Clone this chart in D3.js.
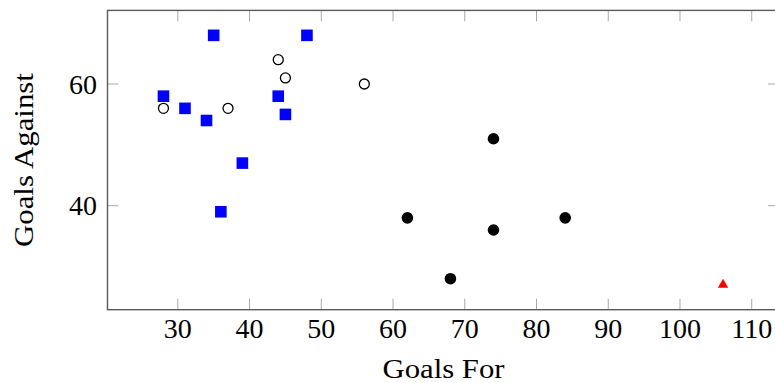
<!DOCTYPE html>
<html>
<head>
<meta charset="utf-8">
<script src="https://cdn.jsdelivr.net/npm/d3@7/dist/d3.min.js"></script>
<style>
  html, body { margin: 0; padding: 0; background: #fff; }
  svg { display: block; }
  text { font-family: "Liberation Serif", "DejaVu Serif", serif; fill: #000; }
</style>
</head>
<body>
<svg id="chart" width="775" height="383"></svg>
<script>
// Goals for / goals against, grouped by marker style
const blueSquares = [
  { gf: 35, ga: 68 }, { gf: 48, ga: 68 }, { gf: 28, ga: 58 },
  { gf: 44, ga: 58 }, { gf: 31, ga: 56 }, { gf: 45, ga: 55 },
  { gf: 34, ga: 54 }, { gf: 39, ga: 47 }, { gf: 36, ga: 39 }
];
const openCircles = [
  { gf: 28, ga: 56 }, { gf: 37, ga: 56 }, { gf: 44, ga: 64 },
  { gf: 45, ga: 61 }, { gf: 56, ga: 60 }
];
const filledCircles = [
  { gf: 74, ga: 51 }, { gf: 62, ga: 38 }, { gf: 84, ga: 38 },
  { gf: 74, ga: 36 }, { gf: 68, ga: 28 }
];
const redTriangles = [
  { gf: 106, ga: 27 }
];
const xTicks = [30, 40, 50, 60, 70, 80, 90, 100, 110];
const yTicks = [40, 60];
const xLabel = "Goals For";
const yLabel = "Goals Against";

const svg = d3.select("#chart");

// data range padded by 10% on each side
const allPts = [...blueSquares, ...openCircles, ...filledCircles, ...redTriangles];
const xExt = d3.extent(allPts, d => d.gf);
const yExt = d3.extent(allPts, d => d.ga);
const xPad = (xExt[1] - xExt[0]) * 0.1;
const yPad = (yExt[1] - yExt[0]) * 0.1;

const plot = { left: 107.5, right: 779, top: 10.4, bottom: 309.7 };

const x = d3.scaleLinear()
  .domain([xExt[0] - xPad, xExt[1] + xPad])
  .range([plot.left, plot.right]);
const y = d3.scaleLinear()
  .domain([yExt[0] - yPad, yExt[1] + yPad])
  .range([plot.bottom, plot.top]);

const tickLen = 11;
const tickColor = "#a8a8a8";
const axisColor = "#5a5a5a";

// inward ticks on all four sides
const ticks = svg.append("g");
xTicks.forEach(v => {
  const px = x(v);
  ticks.append("line").attr("x1", px).attr("x2", px)
    .attr("y1", plot.bottom).attr("y2", plot.bottom - tickLen)
    .attr("stroke", tickColor).attr("stroke-width", 1);
  ticks.append("line").attr("x1", px).attr("x2", px)
    .attr("y1", plot.top).attr("y2", plot.top + tickLen)
    .attr("stroke", tickColor).attr("stroke-width", 1);
});
yTicks.forEach(v => {
  const py = y(v);
  ticks.append("line").attr("x1", plot.left).attr("x2", plot.left + tickLen)
    .attr("y1", py).attr("y2", py)
    .attr("stroke", tickColor).attr("stroke-width", 1);
  ticks.append("line").attr("x1", plot.right).attr("x2", plot.right - tickLen)
    .attr("y1", py).attr("y2", py)
    .attr("stroke", tickColor).attr("stroke-width", 1);
});

// axis box
svg.append("rect")
  .attr("x", plot.left).attr("y", plot.top)
  .attr("width", plot.right - plot.left)
  .attr("height", plot.bottom - plot.top)
  .attr("fill", "none")
  .attr("stroke", axisColor)
  .attr("stroke-width", 1.4);

// tick labels
svg.append("g").selectAll("text")
  .data(xTicks).join("text")
  .attr("x", d => x(d))
  .attr("y", 338)
  .attr("text-anchor", "middle")
  .attr("font-size", 28)
  .text(d => d);

svg.append("g").selectAll("text")
  .data(yTicks).join("text")
  .attr("x", 97)
  .attr("y", d => y(d) + 9.5)
  .attr("text-anchor", "end")
  .attr("font-size", 28)
  .text(d => d);

// axis titles
svg.append("text")
  .attr("x", 443.5).attr("y", 377.5)
  .attr("text-anchor", "middle")
  .attr("font-size", 28)
  .attr("textLength", 122)
  .attr("lengthAdjust", "spacingAndGlyphs")
  .text(xLabel);

svg.append("text")
  .attr("transform", `translate(32.5,${(plot.top + plot.bottom) / 2}) rotate(-90)`)
  .attr("text-anchor", "middle")
  .attr("font-size", 28)
  .attr("textLength", 174)
  .attr("lengthAdjust", "spacingAndGlyphs")
  .text(yLabel);

// markers
const marks = svg.append("g");

marks.selectAll("path.sq")
  .data(blueSquares).join("path")
  .attr("class", "sq")
  .attr("transform", d => `translate(${x(d.gf)},${y(d.ga)})`)
  .attr("d", d3.symbol(d3.symbolSquare, 11.6 * 11.6)())
  .attr("fill", "#0000ff");

marks.selectAll("circle.open")
  .data(openCircles).join("circle")
  .attr("class", "open")
  .attr("cx", d => x(d.gf)).attr("cy", d => y(d.ga))
  .attr("r", 5)
  .attr("fill", "#fff")
  .attr("stroke", "#000")
  .attr("stroke-width", 1.3);

marks.selectAll("circle.filled")
  .data(filledCircles).join("circle")
  .attr("class", "filled")
  .attr("cx", d => x(d.gf)).attr("cy", d => y(d.ga))
  .attr("r", 5.8)
  .attr("fill", "#000");

// equilateral triangle with circumradius 6 centred on the point
const triR = 6;
const triSize = Math.sqrt(3) / 4 * Math.pow(triR * Math.sqrt(3), 2);
marks.selectAll("path.tri")
  .data(redTriangles).join("path")
  .attr("class", "tri")
  .attr("transform", d => `translate(${x(d.gf)},${y(d.ga)})`)
  .attr("d", d3.symbol(d3.symbolTriangle, triSize)())
  .attr("fill", "#ff0000");
</script>
</body>
</html>
